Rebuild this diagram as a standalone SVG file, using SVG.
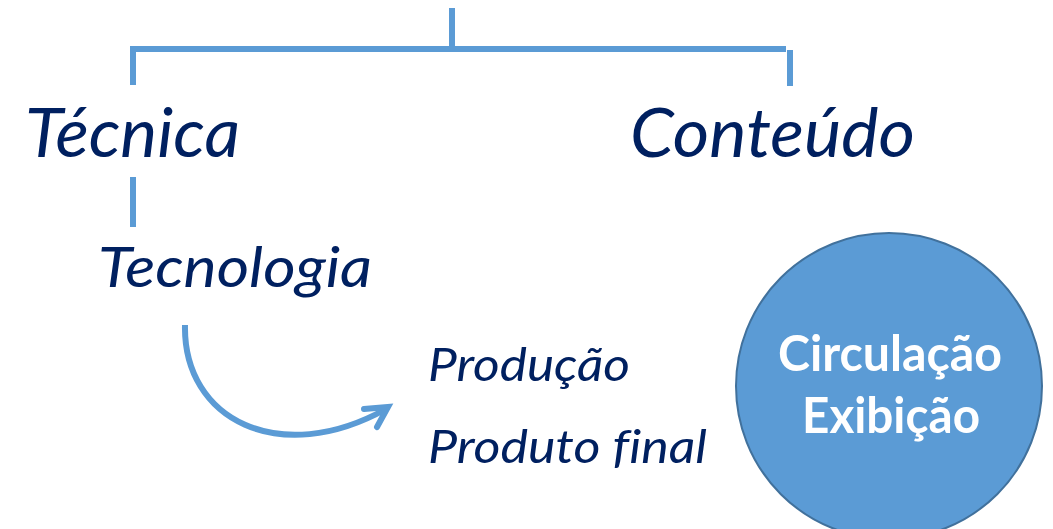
<svg xmlns="http://www.w3.org/2000/svg" width="1053" height="529" viewBox="0 0 1053 529">
<style>
.ln{stroke:#5B9BD5;stroke-width:6;fill:none}
.t{font-family:Lato,"Liberation Sans",sans-serif;font-style:italic;fill:#002060;font-variant-ligatures:none}
.w{font-family:Lato,"Liberation Sans",sans-serif;font-weight:bold;fill:#FFFFFF}
</style>
<rect width="1053" height="529" fill="#FFFFFF"/>
<g id="connectors">
<line class="ln" x1="452" y1="8" x2="452" y2="49"/>
<polyline class="ln" points="133,85 133,49 786,49"/>
<line class="ln" x1="790" y1="50" x2="790" y2="86"/>
<line class="ln" x1="133" y1="177" x2="133" y2="227"/>
<path class="ln" d="M185 325 C183 420 280 468 386 409" stroke-linecap="butt"/>
<polyline class="ln" points="364,409 388,407 377,427" stroke-linecap="round" stroke-linejoin="miter"/>
</g>
<g id="tecnica"><text class="t" x="25" y="157" font-size="67" textLength="215" lengthAdjust="spacingAndGlyphs">Técnica</text></g>
<g id="conteudo"><text class="t" x="630" y="157" font-size="67" textLength="285" lengthAdjust="spacingAndGlyphs">Conteúdo</text></g>
<g id="tecnologia"><text class="t" x="98" y="287" font-size="56" textLength="274" lengthAdjust="spacingAndGlyphs">Tecnologia</text></g>
<g id="producao"><text class="t" x="428" y="381" font-size="47" textLength="202" lengthAdjust="spacingAndGlyphs">Produção</text></g>
<g id="produto-final"><text class="t" x="428" y="463" font-size="47" textLength="279" lengthAdjust="spacingAndGlyphs">Produto final</text></g>
<g id="circulo">
<circle cx="889" cy="386" r="153" fill="#5B9BD5" stroke="#41719C" stroke-width="2"/>
<text class="w" x="778" y="371" font-size="49" textLength="224" lengthAdjust="spacingAndGlyphs">Circulação</text>
<text class="w" x="802" y="433" font-size="49" textLength="178" lengthAdjust="spacingAndGlyphs">Exibição</text>
</g>
</svg>
